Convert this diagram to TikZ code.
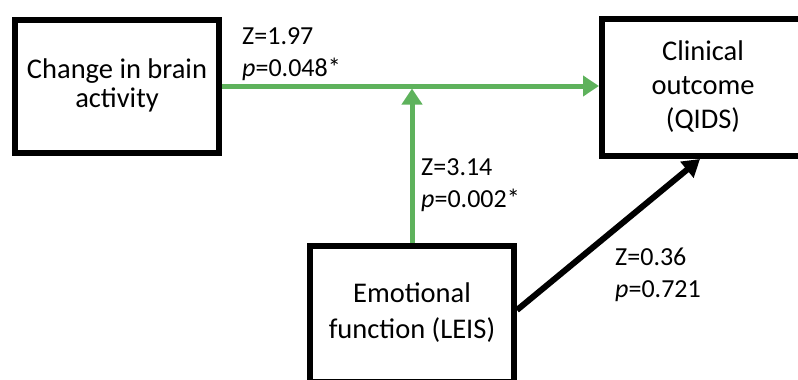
\documentclass[tikz,border=0pt]{standalone}
\usepackage{fontspec}
\setmainfont{Carlito}
\usetikzlibrary{arrows.meta,shadows}
\definecolor{pathgreen}{RGB}{94,178,92}
\tikzset{
  box/.style={draw=black, line width=6pt, fill=white, align=center, inner sep=0pt,
    font=\fontsize{28.5}{33}\selectfont,
    drop shadow={shadow xshift=2.5pt, shadow yshift=-2.5pt, opacity=0.25, fill=black}},
  greenarrow/.style={draw=pathgreen, line width=5pt, -{Triangle[length=16pt,width=20pt]}},
  blackarrow/.style={draw=black, line width=6pt, -{Triangle[length=17pt,width=20pt]}},
  stat/.style={font=\fontsize{26}{32}\selectfont, align=left, anchor=base west, inner sep=0pt}
}
\begin{document}
\begin{tikzpicture}[x=1pt,y=-1pt]
\useasboundingbox (0,0) rectangle (798,380);
\node[box, minimum width=204pt, minimum height=133pt] (b1) at (117,86) {\raisebox{-8pt}{\begin{tabular}{@{}c@{}}Change in brain\\[-4pt]activity\end{tabular}}};
\node[box, minimum width=202pt, minimum height=137pt] (b2) at (703,87.5) {\raisebox{-3pt}{\begin{tabular}{@{}c@{}}Clinical\\[1pt]outcome\\[1pt](QIDS)\end{tabular}}};
\node[box, minimum width=204pt, minimum height=136pt] (b3) at (412,314) {\begin{tabular}{@{}c@{}}Emotional\\[3pt]function (LEIS)\end{tabular}};
\coordinate (m) at (b3.north |- b1.east);
\draw[greenarrow] (b1.east) -- (b1.east -| b2.west);
\draw[greenarrow] (b3.north) -- ([yshift=-2.5pt]m);
\draw[blackarrow] ([yshift=4pt]b3.east) -- ([xshift=-3pt]b2.south);
\node[stat] (s1) at (242,76) {Z=1.97\\\textit{p}=0.048*};
\node[stat] (s2) at (421,207) {Z=3.14\\\textit{p}=0.002*};
\node[stat] (s3) at (615,297) {Z=0.36\\\textit{p}=0.721};
\end{tikzpicture}
\end{document}
